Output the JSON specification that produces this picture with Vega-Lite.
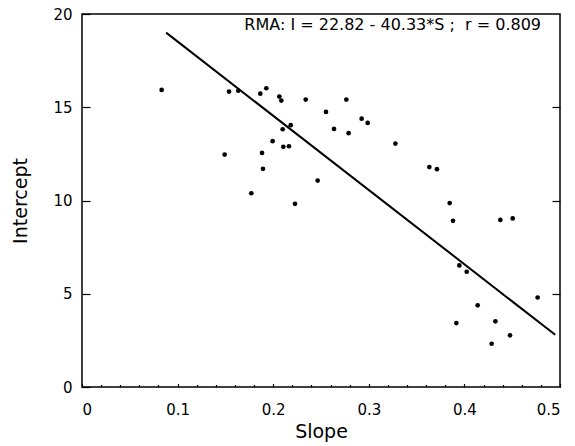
{
  "$schema": "https://vega.github.io/schema/vega-lite/v6.json",
  "autosize": "none",
  "padding": {"left": 82, "top": 14, "right": 15, "bottom": 59},
  "width": 478,
  "height": 373,
  "background": "white",
  "datasets": {
    "points": [
      {"S": 0.0833, "I": 15.93}, {"S": 0.1538, "I": 15.84}, {"S": 0.1635, "I": 15.89},
      {"S": 0.1865, "I": 15.73}, {"S": 0.1928, "I": 16.02}, {"S": 0.2064, "I": 15.57},
      {"S": 0.2085, "I": 15.36}, {"S": 0.234, "I": 15.41}, {"S": 0.2765, "I": 15.41},
      {"S": 0.2552, "I": 14.75}, {"S": 0.2925, "I": 14.39}, {"S": 0.2988, "I": 14.16},
      {"S": 0.2636, "I": 13.84}, {"S": 0.2789, "I": 13.61}, {"S": 0.2099, "I": 13.82},
      {"S": 0.2183, "I": 14.04}, {"S": 0.1994, "I": 13.18}, {"S": 0.2106, "I": 12.88},
      {"S": 0.2165, "I": 12.91}, {"S": 0.1492, "I": 12.46}, {"S": 0.1883, "I": 12.55},
      {"S": 0.1893, "I": 11.7}, {"S": 0.2465, "I": 11.07}, {"S": 0.1771, "I": 10.39},
      {"S": 0.2228, "I": 9.82}, {"S": 0.3278, "I": 13.05}, {"S": 0.3633, "I": 11.79},
      {"S": 0.3713, "I": 11.68}, {"S": 0.3846, "I": 9.86}, {"S": 0.3881, "I": 8.91},
      {"S": 0.4376, "I": 8.96}, {"S": 0.4505, "I": 9.04}, {"S": 0.3947, "I": 6.52},
      {"S": 0.4024, "I": 6.18}, {"S": 0.4139, "I": 4.38}, {"S": 0.4766, "I": 4.8},
      {"S": 0.3916, "I": 3.43}, {"S": 0.4324, "I": 3.52}, {"S": 0.4477, "I": 2.77},
      {"S": 0.4285, "I": 2.32}
    ],
    "fit": [{"S": 0.088, "I": 19.0}, {"S": 0.495, "I": 2.8}],
    "note": [{"S": 0.325, "I": 19.4, "label": "RMA: I = 22.82 - 40.33*S ;\u00a0 r = 0.809"}]
  },
  "layer": [
    {
      "data": {"name": "points"},
      "mark": {"type": "circle", "size": 22, "color": "black", "opacity": 1},
      "encoding": {
        "x": {"field": "S", "type": "quantitative",
              "scale": {"domain": [0, 0.5], "nice": false, "zero": false},
              "axis": {"orient": "bottom", "values": [0, 0.1, 0.2, 0.3, 0.4, 0.5], "format": "~g",
                       "tickSize": -3.5, "labelPadding": 19, "title": "Slope", "titlePadding": 5, "domain": false}},
        "y": {"field": "I", "type": "quantitative",
              "scale": {"domain": [0, 20], "nice": false},
              "axis": {"orient": "left", "values": [0, 5, 10, 15, 20], "format": "d",
                       "tickSize": -8, "labelPadding": 18, "title": "Intercept", "titlePadding": 22, "domain": false}}
      }
    },
    {
      "data": {"name": "fit"},
      "mark": {"type": "line", "color": "black", "strokeWidth": 2},
      "encoding": {
        "x": {"field": "S", "type": "quantitative",
              "axis": {"orient": "bottom", "values": [0.02, 0.04, 0.06, 0.08, 0.12, 0.14, 0.16, 0.18, 0.22, 0.24, 0.26, 0.28, 0.32, 0.34, 0.36, 0.38, 0.42, 0.44, 0.46, 0.48],
                       "labels": false, "tickSize": -2.5, "title": null, "domain": false}},
        "y": {"field": "I", "type": "quantitative",
              "axis": {"orient": "right", "values": [5, 10, 15], "labels": false, "tickSize": -8, "title": null, "domain": false}}
      }
    },
    {
      "data": {"name": "note"},
      "mark": {"type": "text", "font": "DejaVu Sans", "fontSize": 16, "color": "black", "align": "center", "baseline": "middle"},
      "encoding": {
        "x": {"field": "S", "type": "quantitative", "axis": null},
        "y": {"field": "I", "type": "quantitative", "axis": null},
        "text": {"field": "label"}
      }
    }
  ],
  "resolve": {"axis": {"x": "independent", "y": "independent"}},
  "config": {
    "view": {"stroke": "black", "strokeWidth": 1.5},
    "axis": {
      "grid": false,
      "labelFont": "DejaVu Sans", "labelFontSize": 15, "labelColor": "black",
      "titleFont": "DejaVu Sans", "titleFontSize": 19, "titleFontWeight": "normal", "titleColor": "black",
      "tickColor": "black", "tickWidth": 1.2
    }
  }
}
